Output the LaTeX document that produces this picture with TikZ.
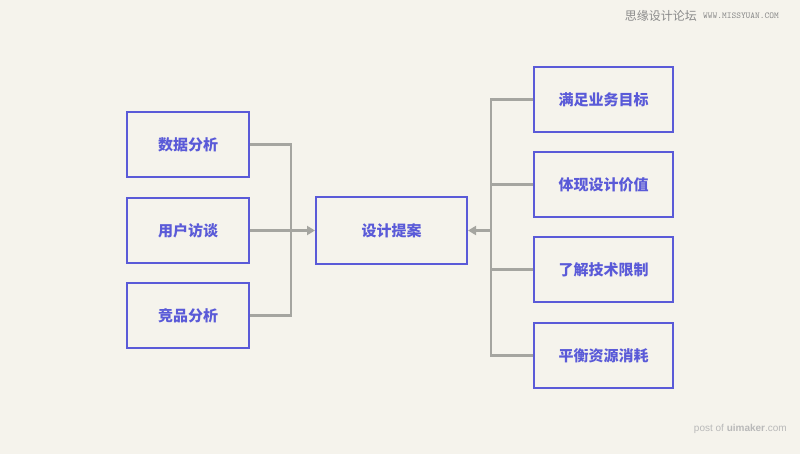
\documentclass[tikz,border=0pt]{standalone}
\usepackage{fontspec}
\setmainfont{Liberation Sans}
\newfontfamily\cjk{Noto Sans CJK SC}
\usetikzlibrary{arrows.meta}
\definecolor{bg}{HTML}{F5F3EC}
\definecolor{boxc}{HTML}{5A5AD8}
\definecolor{linec}{HTML}{A5A5A0}
\definecolor{wm}{HTML}{8A8A8A}
\tikzset{
  box/.style={draw=boxc, line width=2pt, minimum width=#1, minimum height=65pt, inner sep=0pt,
    font=\cjk\bfseries\fontsize{15}{15}\selectfont, text=boxc, anchor=north west},
  conn/.style={draw=linec, line width=2.2pt},
  arr/.style={conn, -{Triangle[length=8pt,width=9pt]}},
}
\begin{document}
\begin{tikzpicture}[x=1pt,y=-1pt]
\fill[bg] (0,0) rectangle (800,454);
\useasboundingbox (0,0) rectangle (800,454);
% left boxes
\node[box=122pt] (a1) at (126,111) {数据分析};
\node[box=122pt] (a2) at (126,197) {用户访谈};
\node[box=122pt] (a3) at (126,282) {竞品分析};
% center
\node[box=151pt, minimum height=67pt] (c) at (315,196) {设计提案};
% right
\node[box=139pt] (b1) at (533,66) {满足业务目标};
\node[box=139pt] (b2) at (533,151) {体现设计价值};
\node[box=139pt] (b3) at (533,236) {了解技术限制};
\node[box=139pt] (b4) at (533,322) {平衡资源消耗};
% left connectors
\coordinate (lt) at (291,0);
\draw[conn] (a1.east) -| (lt |- a3.east) -- (a3.east);
\draw[arr] (a2.east) -- (c.west);
% right connectors
\coordinate (rt) at (491,0);
\draw[conn] (b1.west) -| (rt |- b4.west) -- (b4.west);
\draw[conn] (b2.west) -- (rt |- b2.west);
\draw[conn] (b3.west) -- (rt |- b3.west);
\draw[arr] (rt |- c.east) -- (c.east);
% watermarks
\node[anchor=east, text=wm, font=\cjk\fontsize{12}{12}\selectfont, inner sep=0pt] (w1) at (697,16) {思缘设计论坛};
\node[anchor=west, text=wm, font=\ttfamily\fontsize{9}{9}\selectfont, inner sep=0pt] (w2) at (703,16) {WWW.MISSYUAN.COM};
\node[anchor=east, text=wm!60, font=\fontsize{10}{10}\selectfont, inner sep=0pt] (w3) at (787,429) {post of \textbf{uimaker}.com};
\end{tikzpicture}
\end{document}
